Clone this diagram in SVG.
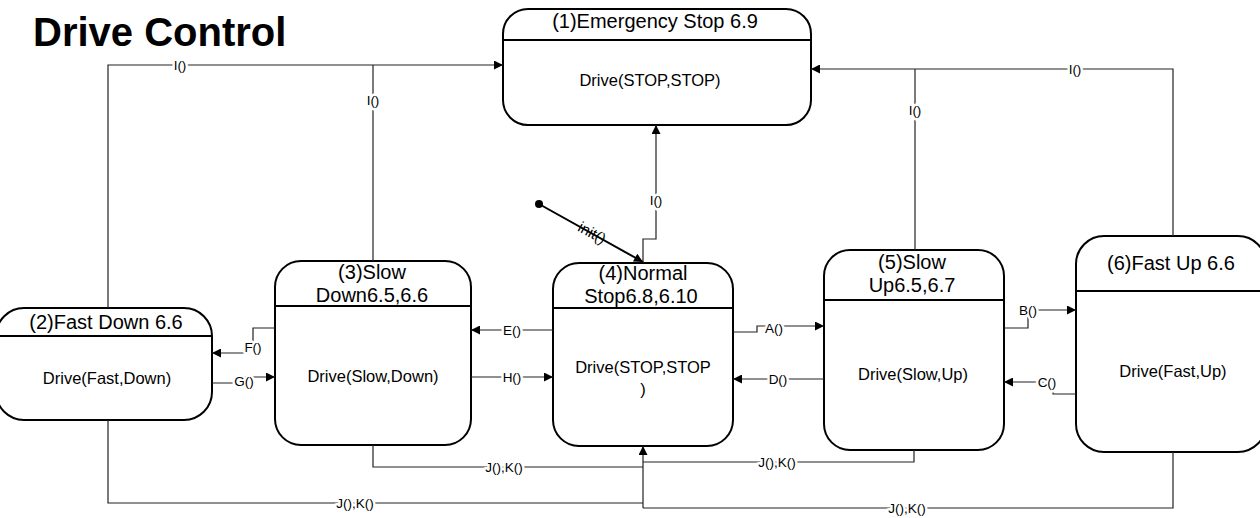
<svg xmlns="http://www.w3.org/2000/svg" width="1260" height="518" viewBox="0 0 1260 518">
<style>
text{font-family:"Liberation Sans",Arial,sans-serif;fill:#000}
.node rect{fill:#fff;stroke:#000;stroke-width:2}
.node line{stroke:#000;stroke-width:2}
.hdr{font-size:20px;text-anchor:middle}
.body{font-size:16.5px;text-anchor:middle}
.conn path{fill:none;stroke:#222;stroke-width:1.2}
.lbl{font-size:13.5px;text-anchor:middle;paint-order:stroke;stroke:#fff;stroke-width:5px;stroke-linejoin:round}
</style>
<defs>
<marker id="ah" viewBox="0 0 10 10" refX="10" refY="5" markerWidth="11" markerHeight="9" markerUnits="userSpaceOnUse" orient="auto"><path d="M0,0 L10,5 L0,10 z" fill="#000"/></marker>
</defs>
<rect width="1260" height="518" fill="#fff"/>
<text x="33" y="46" font-size="40" font-weight="bold">Drive Control</text>

<g id="node1" class="node">
<rect x="503" y="9" width="308" height="116" rx="25"/>
<line x1="503" y1="40" x2="811" y2="40"/>
<text class="hdr" x="655" y="28">(1)Emergency Stop 6.9</text>
<text class="body" x="650" y="86">Drive(STOP,STOP)</text>
</g>
<g id="node2" class="node">
<rect x="-4" y="308" width="216" height="112" rx="28"/>
<line x1="-4" y1="336" x2="212" y2="336"/>
<text class="hdr" x="106" y="329">(2)Fast Down 6.6</text>
<text class="body" x="107" y="384">Drive(Fast,Down)</text>
</g>
<g id="node3" class="node">
<rect x="275" y="261" width="196" height="184" rx="26"/>
<line x1="275" y1="306" x2="471" y2="306"/>
<text class="hdr" x="372" y="279">(3)Slow</text>
<text class="hdr" x="372" y="302">Down6.5,6.6</text>
<text class="body" x="373" y="382">Drive(Slow,Down)</text>
</g>
<g id="node4" class="node">
<rect x="553" y="263" width="180" height="183" rx="26"/>
<line x1="553" y1="308" x2="733" y2="308"/>
<text class="hdr" x="643" y="280">(4)Normal</text>
<text class="hdr" x="641" y="303">Stop6.8,6.10</text>
<text class="body" x="643" y="373">Drive(STOP,STOP</text>
<text class="body" x="643" y="395">)</text>
</g>
<g id="node5" class="node">
<rect x="824" y="250" width="180" height="200" rx="26"/>
<line x1="824" y1="300" x2="1004" y2="300"/>
<text class="hdr" x="912" y="269">(5)Slow</text>
<text class="hdr" x="912" y="292">Up6.5,6.7</text>
<text class="body" x="913" y="380">Drive(Slow,Up)</text>
</g>
<g id="node6" class="node">
<rect x="1076" y="236" width="190" height="216" rx="28"/>
<line x1="1076" y1="291" x2="1266" y2="291"/>
<text class="hdr" x="1171" y="270">(6)Fast Up 6.6</text>
<text class="body" x="1173" y="377">Drive(Fast,Up)</text>
</g>

<g id="connectors" class="conn">
<path d="M108,308 V65 H503" marker-end="url(#ah)"/>
<path d="M373,261 V65"/>
<path d="M1173,236 V69 H811" marker-end="url(#ah)"/>
<path d="M915,250 V69"/>
<path d="M643,263 V239 H656 V125" marker-end="url(#ah)"/>
<path d="M539,204 L643,262" style="stroke:#000;stroke-width:2" marker-end="url(#ah)"/>
<circle cx="539" cy="204" r="4" fill="#000"/>
<path d="M275,328 H253 V343 M245,353 H212" marker-end="url(#ah)"/>
<path d="M212,383 H244 V377 H275" marker-end="url(#ah)"/>
<path d="M553,330 H471" marker-end="url(#ah)"/>
<path d="M471,377 H553" marker-end="url(#ah)"/>
<path d="M733,332 H757 V326 H824" marker-end="url(#ah)"/>
<path d="M824,379 H733" marker-end="url(#ah)"/>
<path d="M1004,328 H1028 V310 H1076" marker-end="url(#ah)"/>
<path d="M1076,394 H1053 V382 H1004" marker-end="url(#ah)"/>
<path d="M373,445 V467 H643"/>
<path d="M108,420 V503 H643"/>
<path d="M914,450 V462 H643"/>
<path d="M1173,452 V508 H643"/>
<path d="M643,508 V446" marker-end="url(#ah)"/>

<text class="lbl" x="180" y="69.5">I()</text>
<text class="lbl" x="373" y="104.5">I()</text>
<text class="lbl" x="1075" y="73.5">I()</text>
<text class="lbl" x="915" y="114.5">I()</text>
<text class="lbl" x="656" y="204.5">I()</text>
<text x="592" y="233" font-size="15" text-anchor="middle" transform="rotate(29 592 233)" dy="5">init()</text>
<text class="lbl" x="253" y="352">F()</text>
<text class="lbl" x="244" y="385.5">G()</text>
<text class="lbl" x="512" y="334.5">E()</text>
<text class="lbl" x="512" y="381.5">H()</text>
<text class="lbl" x="774" y="333">A()</text>
<text class="lbl" x="778" y="383.5">D()</text>
<text class="lbl" x="1028" y="315">B()</text>
<text class="lbl" x="1047" y="387">C()</text>
<text class="lbl" x="504" y="471.5">J(),K()</text>
<text class="lbl" x="355" y="507.5">J(),K()</text>
<text class="lbl" x="777" y="466.5">J(),K()</text>
<text class="lbl" x="907" y="512.5">J(),K()</text>
</g>
</svg>
